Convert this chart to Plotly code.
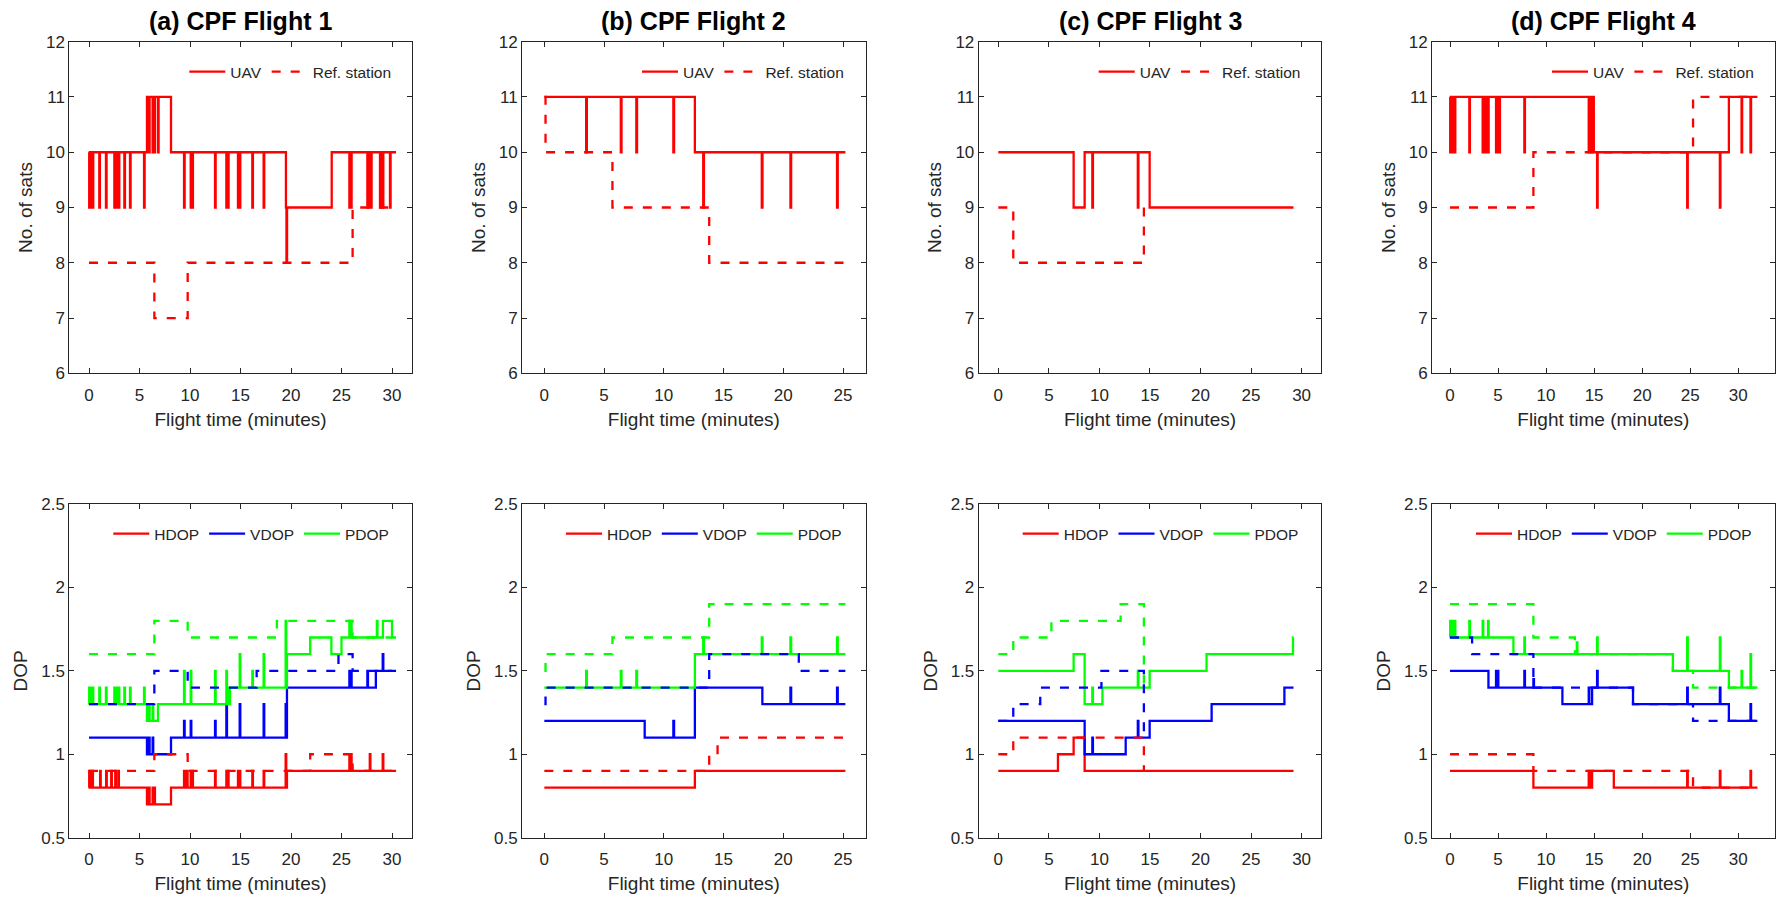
import plotly.graph_objects as go

W, H = 1776, 899
RED, BLUE, GREEN = "#FF0000", "#0000FF", "#00FF00"
FONT = "Liberation Sans, Arial, sans-serif"
AX = "#262626"

titles = ["(a) CPF Flight 1", "(b) CPF Flight 2", "(c) CPF Flight 3", "(d) CPF Flight 4"]
ends = [30.4, 25.2, 29.2, 32.0]
ref_ends = [30.0, 25.2, 15.0, 32.0]
dop_ref_ends = [30.0, 25.2, 14.4, 32.0]
x_ticks = [[0, 5, 10, 15, 20, 25, 30], [0, 5, 10, 15, 20, 25],
           [0, 5, 10, 15, 20, 25, 30], [0, 5, 10, 15, 20, 25, 30]]
x_ranges = [(-1.95, 31.95), (-1.87, 26.9), (-1.94, 31.95), (-1.875, 33.8)]
sats_ticks = [6, 7, 8, 9, 10, 11, 12]
dop_ticks = [0.5, 1.0, 1.5, 2.0, 2.5]
dop_tick_text = ["0.5", "1", "1.5", "2", "2.5"]

# ---------------- Flight 1 ----------------
f1_uav_t = [0, 5.74, 8.12, 19.5, 24.03]
f1_uav_v = [10, 11, 10, 9, 10]
f1_uav_spk_t = [0.02, 0.1, 0.2, 0.36, 1.02, 1.68, 2.51, 2.67, 2.94, 3.5, 4.06, 5.45,
                5.94, 6.3, 6.47, 6.83,
                9.41, 10.07, 10.23, 12.48, 13.6, 13.76, 14.75, 14.92, 16.17, 17.29,
                19.55,
                25.78, 25.94, 27.56, 27.75, 27.92, 28.81, 29.08, 29.8]
f1_uav_spk_v = [9, 9, 9, 9, 9, 9, 9, 9, 9, 9, 9, 9,
                10, 10, 10, 10,
                9, 9, 9, 9, 9, 9, 9, 9, 9, 9,
                8,
                9, 9, 9, 9, 9, 9, 9, 9]
f1_ref_t = [0, 6.47, 9.77, 26.1]
f1_ref_v = [8, 7, 8, 9]

f1_hdop_t = [0, 5.74, 8.12, 19.6]
f1_hdop_v = [0.8, 0.7, 0.8, 0.9]
f1_hdop_spk_t = [0.02, 0.1, 0.2, 0.33, 1.1, 1.7, 2.2, 2.6, 2.9,
                 5.94, 6.3, 6.47,
                 9.41, 9.7, 10.07, 10.23, 12.48, 13.6, 13.76, 14.75, 14.92, 16.17, 17.29,
                 19.47, 25.78, 25.94, 27.8, 29.08]
f1_hdop_spk_v = [0.9, 0.9, 0.9, 0.9, 0.9, 0.9, 0.9, 0.9, 0.9,
                 0.8, 0.8, 0.8,
                 0.9, 0.9, 0.9, 0.9, 0.9, 0.9, 0.9, 0.9, 0.9, 0.9, 0.9,
                 1.0, 1.0, 1.0, 1.0, 1.0]
f1_hdop_ref_t = [0, 6.47, 9.77, 21.9, 26.1]
f1_hdop_ref_v = [0.9, 1.0, 0.9, 1.0, 0.9]

f1_vdop_t = [0, 5.74, 8.12, 19.6, 28.4]
f1_vdop_v = [1.1, 1.0, 1.1, 1.4, 1.5]
f1_vdop_spk_t = [5.94, 6.3, 9.41, 10.07, 12.48, 13.6, 14.92, 17.29, 19.47, 25.78, 25.94, 27.56, 29.08]
f1_vdop_spk_v = [1.1, 1.1, 1.2, 1.2, 1.2, 1.3, 1.3, 1.3, 1.3, 1.5, 1.5, 1.5, 1.6]
f1_vdop_ref_t = [0, 6.47, 9.77, 16.6, 24.7, 26.1]
f1_vdop_ref_v = [1.3, 1.5, 1.4, 1.5, 1.6, 1.5]

f1_pdop_t = [0, 5.74, 6.83, 13.96, 19.6, 21.9, 24.0, 25.0, 29.1, 30.0]
f1_pdop_v = [1.3, 1.2, 1.3, 1.4, 1.6, 1.7, 1.6, 1.7, 1.8, 1.7]
f1_pdop_spk_t = [0.02, 0.1, 0.2, 0.36, 1.02, 1.68, 2.51, 2.67, 2.94, 3.5, 4.06, 5.45,
                 5.94, 6.3,
                 9.41, 10.07, 12.48, 13.6, 13.76,
                 14.92, 16.17, 17.29,
                 19.47,
                 25.78, 25.94, 28.5]
f1_pdop_spk_v = [1.4, 1.4, 1.4, 1.4, 1.4, 1.4, 1.4, 1.4, 1.4, 1.4, 1.4, 1.4,
                 1.3, 1.3,
                 1.5, 1.5, 1.5, 1.5, 1.4,
                 1.6, 1.5, 1.6,
                 1.8,
                 1.8, 1.8, 1.8]
f1_pdop_ref_t = [0, 6.47, 9.77, 18.6, 26.1]
f1_pdop_ref_v = [1.6, 1.8, 1.7, 1.8, 1.7]

# ---------------- Flight 2 ----------------
f2_uav_t = [0, 12.6]
f2_uav_v = [11, 10]
f2_uav_spk_t = [3.5, 6.4, 7.7, 10.8, 13.3, 18.2, 20.6, 24.5]
f2_uav_spk_v = [10, 10, 10, 10, 9, 9, 9, 9]
f2_ref_t = [0, 0.1, 5.7, 13.8]
f2_ref_v = [11, 10, 9, 8]

f2_hdop_t = [0, 12.6]
f2_hdop_v = [0.8, 0.9]
f2_hdop_spk_t = []
f2_hdop_spk_v = []
f2_hdop_ref_t = [0, 13.8, 14.5]
f2_hdop_ref_v = [0.9, 1.0, 1.1]

f2_vdop_t = [0, 8.4, 12.6, 18.25]
f2_vdop_v = [1.2, 1.1, 1.4, 1.3]
f2_vdop_spk_t = [10.8, 20.6, 24.5]
f2_vdop_spk_v = [1.2, 1.4, 1.4]
f2_vdop_ref_t = [0, 0.1, 13.8, 21.3]
f2_vdop_ref_v = [1.3, 1.4, 1.6, 1.5]

f2_pdop_t = [0, 12.6]
f2_pdop_v = [1.4, 1.6]
f2_pdop_spk_t = [3.5, 6.4, 7.7, 13.3, 18.2, 20.6, 24.5]
f2_pdop_spk_v = [1.5, 1.5, 1.5, 1.7, 1.7, 1.7, 1.7]
f2_pdop_ref_t = [0, 0.1, 5.7, 13.8]
f2_pdop_ref_v = [1.5, 1.6, 1.7, 1.9]

# ---------------- Flight 3 ----------------
f3_uav_t = [0, 7.45, 8.54, 14.97]
f3_uav_v = [10, 9, 10, 9]
f3_uav_spk_t = [9.3, 13.8]
f3_uav_spk_v = [9, 9]
f3_ref_t = [0, 1.48, 14.4]
f3_ref_v = [9, 8, 9]

f3_hdop_t = [0, 5.9, 7.45, 8.54]
f3_hdop_v = [0.9, 1.0, 1.1, 0.9]
f3_hdop_spk_t = []
f3_hdop_spk_v = []
f3_hdop_ref_t = [0, 1.48, 14.4]
f3_hdop_ref_v = [1.0, 1.1, 0.9]

f3_vdop_t = [0, 8.54, 12.6, 14.97, 21.1, 28.3]
f3_vdop_v = [1.2, 1.0, 1.1, 1.2, 1.3, 1.4]
f3_vdop_spk_t = [9.3, 13.8]
f3_vdop_spk_v = [1.1, 1.2]
f3_vdop_ref_t = [0, 1.48, 4.15, 10.2, 14.4]
f3_vdop_ref_v = [1.2, 1.3, 1.4, 1.5, 1.1]

f3_pdop_t = [0, 7.45, 8.54, 10.3, 14.97, 20.6, 29.15]
f3_pdop_v = [1.5, 1.6, 1.3, 1.4, 1.5, 1.6, 1.7]
f3_pdop_spk_t = [9.3, 13.8]
f3_pdop_spk_v = [1.4, 1.5]
f3_pdop_ref_t = [0, 1.48, 5.25, 12.1, 14.4]
f3_pdop_ref_v = [1.6, 1.7, 1.8, 1.9, 1.4]

# ---------------- Flight 4 ----------------
f4_uav_t = [0, 14.97, 29.03]
f4_uav_v = [11, 10, 11]
f4_uav_spk_t = [0.02, 0.21, 0.49, 2.01, 3.40, 3.61, 3.78, 3.96, 4.79, 4.97, 5.14, 7.74,
                14.44, 14.62, 14.79, 15.31, 24.69, 28.09, 30.35, 31.28]
f4_uav_spk_v = [10, 10, 10, 10, 10, 10, 10, 10, 10, 10, 10, 10,
                10, 10, 10, 9, 9, 9, 10, 10]
f4_ref_t = [0, 8.68, 25.3]
f4_ref_v = [9, 10, 11]

f4_hdop_t = [0, 8.68, 14.44, 14.55, 14.79, 17.05]
f4_hdop_v = [0.9, 0.8, 0.9, 0.8, 0.9, 0.8]
f4_hdop_spk_t = [24.69, 28.09, 31.28]
f4_hdop_spk_v = [0.9, 0.9, 0.9]
f4_hdop_ref_t = [0, 8.68, 25.3]
f4_hdop_ref_v = [1.0, 0.9, 0.8]

f4_vdop_t = [0, 4.0, 11.7, 14.79, 19.05, 29.03]
f4_vdop_v = [1.5, 1.4, 1.3, 1.4, 1.3, 1.2]
f4_vdop_spk_t = [4.79, 4.97, 7.74, 8.68, 14.44, 15.31, 24.69, 28.09, 31.28]
f4_vdop_spk_v = [1.5, 1.5, 1.5, 1.45, 1.4, 1.5, 1.4, 1.4, 1.3]
f4_vdop_ref_t = [0, 2.3, 8.68, 19.05, 25.3]
f4_vdop_ref_v = [1.7, 1.6, 1.4, 1.3, 1.2]

f4_pdop_t = [0, 6.6, 23.2, 29.03]
f4_pdop_v = [1.7, 1.6, 1.5, 1.4]
f4_pdop_spk_t = [0.02, 0.21, 0.49, 2.01, 3.40, 3.96, 7.74, 13.2, 15.31, 24.69, 28.09, 30.35, 31.28]
f4_pdop_spk_v = [1.8, 1.8, 1.8, 1.8, 1.8, 1.8, 1.7, 1.67, 1.7, 1.7, 1.7, 1.5, 1.6]
f4_pdop_ref_t = [0, 8.68, 13.0, 23.2, 25.3]
f4_pdop_ref_v = [1.9, 1.7, 1.6, 1.5, 1.4]

flights = [
    dict(uav=(f1_uav_t, f1_uav_v, f1_uav_spk_t, f1_uav_spk_v), ref=(f1_ref_t, f1_ref_v),
         hdop=(f1_hdop_t, f1_hdop_v, f1_hdop_spk_t, f1_hdop_spk_v), hdop_ref=(f1_hdop_ref_t, f1_hdop_ref_v),
         vdop=(f1_vdop_t, f1_vdop_v, f1_vdop_spk_t, f1_vdop_spk_v), vdop_ref=(f1_vdop_ref_t, f1_vdop_ref_v),
         pdop=(f1_pdop_t, f1_pdop_v, f1_pdop_spk_t, f1_pdop_spk_v), pdop_ref=(f1_pdop_ref_t, f1_pdop_ref_v)),
    dict(uav=(f2_uav_t, f2_uav_v, f2_uav_spk_t, f2_uav_spk_v), ref=(f2_ref_t, f2_ref_v),
         hdop=(f2_hdop_t, f2_hdop_v, f2_hdop_spk_t, f2_hdop_spk_v), hdop_ref=(f2_hdop_ref_t, f2_hdop_ref_v),
         vdop=(f2_vdop_t, f2_vdop_v, f2_vdop_spk_t, f2_vdop_spk_v), vdop_ref=(f2_vdop_ref_t, f2_vdop_ref_v),
         pdop=(f2_pdop_t, f2_pdop_v, f2_pdop_spk_t, f2_pdop_spk_v), pdop_ref=(f2_pdop_ref_t, f2_pdop_ref_v)),
    dict(uav=(f3_uav_t, f3_uav_v, f3_uav_spk_t, f3_uav_spk_v), ref=(f3_ref_t, f3_ref_v),
         hdop=(f3_hdop_t, f3_hdop_v, f3_hdop_spk_t, f3_hdop_spk_v), hdop_ref=(f3_hdop_ref_t, f3_hdop_ref_v),
         vdop=(f3_vdop_t, f3_vdop_v, f3_vdop_spk_t, f3_vdop_spk_v), vdop_ref=(f3_vdop_ref_t, f3_vdop_ref_v),
         pdop=(f3_pdop_t, f3_pdop_v, f3_pdop_spk_t, f3_pdop_spk_v), pdop_ref=(f3_pdop_ref_t, f3_pdop_ref_v)),
    dict(uav=(f4_uav_t, f4_uav_v, f4_uav_spk_t, f4_uav_spk_v), ref=(f4_ref_t, f4_ref_v),
         hdop=(f4_hdop_t, f4_hdop_v, f4_hdop_spk_t, f4_hdop_spk_v), hdop_ref=(f4_hdop_ref_t, f4_hdop_ref_v),
         vdop=(f4_vdop_t, f4_vdop_v, f4_vdop_spk_t, f4_vdop_spk_v), vdop_ref=(f4_vdop_ref_t, f4_vdop_ref_v),
         pdop=(f4_pdop_t, f4_pdop_v, f4_pdop_spk_t, f4_pdop_spk_v), pdop_ref=(f4_pdop_ref_t, f4_pdop_ref_v)),
]


def stairs(steps_t, steps_v, spk_t, spk_v, end_t, w=0.06):
    def base(t):
        val = steps_v[0]
        for st, sv in zip(steps_t, steps_v):
            if st <= t + 1e-9:
                val = sv
        return val
    pts = list(zip(steps_t, steps_v))
    for st, sv in zip(spk_t, spk_v):
        pts.append((st, sv))
        pts.append((st + w, base(st + w)))
    pts.sort(key=lambda p: p[0])
    pts.append((end_t, base(end_t)))
    return [p[0] for p in pts], [p[1] for p in pts]


# layout geometry (pixels)
XL = [69.3, 522.0, 978.7, 1432.0]
XR = [411.7, 865.7, 1321.3, 1774.7]
TOP = (41.7, 373.3)
BOT = (504.0, 837.7)

fig = go.Figure()
lw = 2.3
dash = "9px,10px"

for i, fl in enumerate(flights):
    xt, yt = f"x{i+1}", f"y{i+1}"
    xb, yb = f"x{i+5}", f"y{i+5}"
    lt = "legend" if i == 0 else f"legend{i+1}"
    lb = f"legend{i+5}"
    ut, uv = stairs(*fl["uav"], ends[i])
    fig.add_trace(go.Scatter(x=ut, y=uv, mode="lines", name="UAV", xaxis=xt, yaxis=yt, legend=lt,
                             line=dict(color=RED, width=lw, shape="hv")))
    rt, rv = stairs(fl["ref"][0], fl["ref"][1], [], [], ref_ends[i])
    fig.add_trace(go.Scatter(x=rt, y=rv, mode="lines", name="Ref. station", xaxis=xt, yaxis=yt, legend=lt,
                             line=dict(color=RED, width=lw, shape="hv", dash=dash)))
    for key, name, col in [("hdop", "HDOP", RED), ("vdop", "VDOP", BLUE), ("pdop", "PDOP", GREEN)]:
        tt, vv = stairs(*fl[key], ends[i])
        fig.add_trace(go.Scatter(x=tt, y=vv, mode="lines", name=name, xaxis=xb, yaxis=yb, legend=lb,
                                 line=dict(color=col, width=lw, shape="hv")))
    for key, name, col in [("hdop_ref", "HDOP ref", RED), ("vdop_ref", "VDOP ref", BLUE), ("pdop_ref", "PDOP ref", GREEN)]:
        tt, vv = stairs(fl[key][0], fl[key][1], [], [], dop_ref_ends[i])
        fig.add_trace(go.Scatter(x=tt, y=vv, mode="lines", name=name, xaxis=xb, yaxis=yb, legend=lb,
                                 showlegend=False,
                                 line=dict(color=col, width=lw, shape="hv", dash=dash)))

axis_common = dict(showgrid=False, zeroline=False, showline=True, linecolor=AX, linewidth=1,
                   mirror="ticks", ticks="inside", ticklen=5, tickwidth=1, tickcolor=AX,
                   automargin=False,
                   tickfont=dict(family=FONT, size=17, color=AX))

layout = dict(width=W, height=H, margin=dict(l=0, r=0, t=0, b=0, autoexpand=False),
              paper_bgcolor="white", plot_bgcolor="white",
              font=dict(family=FONT, color=AX), annotations=[])

for i in range(4):
    xdom = [XL[i] / W, XR[i] / W]
    for row, (ytop, ybot) in enumerate([TOP, BOT]):
        k = i + 1 + 4 * row
        xa = dict(axis_common, domain=xdom, range=list(x_ranges[i]), tickvals=x_ticks[i],
                  anchor=f"y{k}", ticklabelstandoff=6,
                  title=dict(text="Flight time (minutes)", font=dict(family=FONT, size=19, color=AX), standoff=8))
        if row == 0:
            ya = dict(axis_common, domain=[1 - ybot / H, 1 - ytop / H], range=[6, 12], tickvals=sats_ticks,
                      anchor=f"x{k}",
                      title=dict(text="No. of sats", font=dict(family=FONT, size=19, color=AX), standoff=8))
        else:
            ya = dict(axis_common, domain=[1 - ybot / H, 1 - ytop / H], range=[0.5, 2.5], tickvals=dop_ticks,
                      ticktext=dop_tick_text, anchor=f"x{k}",
                      title=dict(text="DOP", font=dict(family=FONT, size=19, color=AX), standoff=8))
        layout["xaxis" if k == 1 else f"xaxis{k}"] = xa
        layout["yaxis" if k == 1 else f"yaxis{k}"] = ya

    lt = "legend" if i == 0 else f"legend{i+1}"
    lb = f"legend{i+5}"
    layout[lt] = dict(orientation="h", x=(XL[i] + 115) / W, xanchor="left", y=1 - 72 / H, yanchor="middle",
                      bgcolor="rgba(0,0,0,0)", borderwidth=0, font=dict(family=FONT, size=15.5, color=AX),
                      itemwidth=36, tracegroupgap=0)
    layout[lb] = dict(orientation="h", x=(XL[i] + 39) / W, xanchor="left", y=1 - 534 / H, yanchor="middle",
                      bgcolor="rgba(0,0,0,0)", borderwidth=0, font=dict(family=FONT, size=15.5, color=AX),
                      itemwidth=36, tracegroupgap=0)
    layout["annotations"].append(dict(text=f"<b>{titles[i]}</b>", xref="paper", yref="paper",
                                      x=(XL[i] + XR[i]) / 2 / W, y=1 - 21 / H, xanchor="center", yanchor="middle",
                                      showarrow=False, font=dict(family=FONT, size=25, color="black")))

fig.update_layout(**layout)
fig.write_html("out.html", config={"displayModeBar": False},
               post_script="document.body.style.margin='0';document.body.style.overflow='hidden';")
